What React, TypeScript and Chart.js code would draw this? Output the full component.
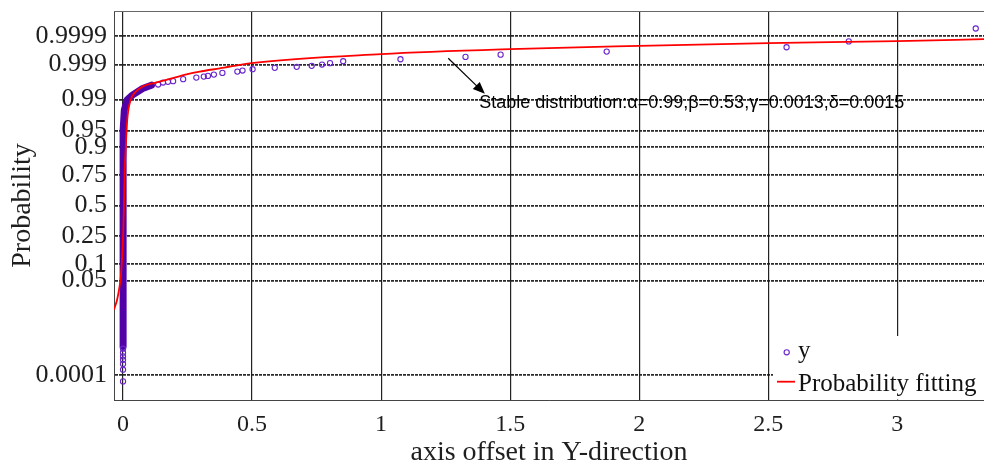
import React, { useEffect, useRef } from 'react';
import { Chart, registerables } from 'chart.js';

Chart.register(...registerables);

// ---- data ----
const xTicks = [0, 0.5, 1, 1.5, 2, 2.5, 3];
const xTickLabels = ['0', '0.5', '1', '1.5', '2', '2.5', '3'];
const probTicks = [0.0001, 0.05, 0.1, 0.25, 0.5, 0.75, 0.9, 0.95, 0.99, 0.999, 0.9999];
const probTickLabels = ['0.0001', '0.05', '0.1', '0.25', '0.5', '0.75', '0.9', '0.95', '0.99', '0.999', '0.9999'];

// dense column of samples close to zero (thousands of overlapping circles -> solid band)
const bandX = [0, 0, 0, 0, 0.0005, 0.001, 0.005, 0.016, 0.036, 0.076, 0.11];
const bandP = [0.001, 0.01, 0.1, 0.5, 0.9, 0.95, 0.982, 0.9897, 0.99223, 0.99483, 0.99584];

// individually visible samples
const sampleX = [
  0, 0, 0, 0, 0, 0, 0,
  0.136, 0.155, 0.174, 0.194, 0.233, 0.284, 0.313, 0.329, 0.352, 0.385, 0.443, 0.463, 0.502,
  0.588, 0.673, 0.731, 0.771, 0.802, 0.853, 1.075, 1.327, 1.463, 1.874, 2.571, 2.812, 3.304,
];
const sampleP = [
  5.74e-5, 1.59e-4, 2.55e-4, 3.6e-4, 4.68e-4, 6.23e-4, 8.44e-4,
  0.996, 0.99649, 0.99665, 0.9968, 0.9972, 0.99748, 0.99765, 0.99776, 0.99795, 0.99818, 0.99834, 0.99846, 0.9986,
  0.99873, 0.99882, 0.9989, 0.999, 0.9991, 0.99922, 0.99933, 0.99944, 0.99953, 0.99963, 0.99974, 0.99984, 0.999948,
];

// fitted stable-distribution CDF
const fitX = [-0.035, -0.023, -0.0155, -0.009, -0.004, 0.001, 0.0035, 0.0066, 0.0105, 0.0163, 0.031, 0.045, 0.076, 0.123, 0.168, 0.246, 0.297, 0.375, 0.498, 1.0, 1.5, 2.0, 2.5, 3.0, 3.336];
const fitP = [0.0112, 0.0194, 0.0324, 0.0565, 0.117, 0.297, 0.506, 0.783, 0.897, 0.9698, 0.9903, 0.99324, 0.99545, 0.99642, 0.99706, 0.99798, 0.99834, 0.99868, 0.9991, 0.999547, 0.999696, 0.999767, 0.999814, 0.999843, 0.999867];

const annotationText = 'Stable distribution:\u03b1=0.99,\u03b2=0.53,\u03b3=0.0013,\u03b4=0.0015';
const arrowFrom = [1.26, 0.99938];
const arrowTo = [1.402, 0.99282];
const textAnchor = [1.38, 0.9836];

const SERIF = "'Liberation Serif', 'Times New Roman', serif";
const SANS = "'Liberation Sans', Arial, sans-serif";
const BAND = '#5200a8';
const PURPLE = '#6a24cc';
const TEXT = '#1e1e1e';

// inverse standard normal CDF (probability paper scale)
function norminv(p: number): number {
  const a = [-3.969683028665376e1, 2.209460984245205e2, -2.759285104469687e2, 1.38357751867269e2, -3.066479806614716e1, 2.506628277459239];
  const b = [-5.447609879822406e1, 1.615858368580409e2, -1.556989798598866e2, 6.680131188771972e1, -1.328068155288572e1];
  const c = [-7.784894002430293e-3, -3.223964580411365e-1, -2.400758277161838, -2.549732539343734, 4.374664141464968, 2.938163982698783];
  const d = [7.784695709041462e-3, 3.224671290700398e-1, 2.445134137142996, 3.754408661907416];
  const pl = 0.02425;
  let q: number, r: number;
  if (p < pl) {
    q = Math.sqrt(-2 * Math.log(p));
    return (((((c[0] * q + c[1]) * q + c[2]) * q + c[3]) * q + c[4]) * q + c[5]) / ((((d[0] * q + d[1]) * q + d[2]) * q + d[3]) * q + 1);
  }
  if (p <= 1 - pl) {
    q = p - 0.5;
    r = q * q;
    return ((((((a[0] * r + a[1]) * r + a[2]) * r + a[3]) * r + a[4]) * r + a[5]) * q) / (((((b[0] * r + b[1]) * r + b[2]) * r + b[3]) * r + b[4]) * r + 1);
  }
  q = Math.sqrt(-2 * Math.log(1 - p));
  return -(((((c[0] * q + c[1]) * q + c[2]) * q + c[3]) * q + c[4]) * q + c[5]) / ((((d[0] * q + d[1]) * q + d[2]) * q + d[3]) * q + 1);
}

const overlayPlugin = {
  id: 'overlay',
  beforeDatasetsDraw(chart: any) {
    const { ctx, chartArea: a } = chart;
    ctx.save();
    ctx.strokeStyle = '#666';
    ctx.lineWidth = 1;
    ctx.beginPath();
    ctx.moveTo(a.left, a.top + 0.5);
    ctx.lineTo(a.right, a.top + 0.5);
    ctx.stroke();
    ctx.restore();
  },
  afterDatasetsDraw(chart: any) {
    const { ctx, chartArea: a, scales } = chart;
    const xs = scales.x;
    const ys = scales.y;
    // arrow
    const x1 = xs.getPixelForValue(arrowFrom[0]);
    const y1 = ys.getPixelForValue(norminv(arrowFrom[1]));
    const x2 = xs.getPixelForValue(arrowTo[0]);
    const y2 = ys.getPixelForValue(norminv(arrowTo[1]));
    const ang = Math.atan2(y2 - y1, x2 - x1);
    const hl = 12;
    const hw = 5;
    ctx.save();
    ctx.strokeStyle = '#000';
    ctx.fillStyle = '#000';
    ctx.lineWidth = 1.2;
    ctx.beginPath();
    ctx.moveTo(x1, y1);
    ctx.lineTo(x2 - Math.cos(ang) * hl * 0.8, y2 - Math.sin(ang) * hl * 0.8);
    ctx.stroke();
    const bx = x2 - Math.cos(ang) * hl;
    const by = y2 - Math.sin(ang) * hl;
    ctx.beginPath();
    ctx.moveTo(x2, y2);
    ctx.lineTo(bx + Math.sin(ang) * hw, by - Math.cos(ang) * hw);
    ctx.lineTo(bx - Math.sin(ang) * hw, by + Math.cos(ang) * hw);
    ctx.closePath();
    ctx.fill();
    // annotation text
    ctx.font = `18px ${SANS}`;
    ctx.textAlign = 'left';
    ctx.textBaseline = 'alphabetic';
    ctx.fillStyle = '#000';
    ctx.fillText(annotationText, xs.getPixelForValue(textAnchor[0]), ys.getPixelForValue(norminv(textAnchor[1])));
    ctx.restore();

    // legend box inside the axes (bottom right)
    ctx.save();
    const lx = a.right - 211;
    const ly = a.bottom - 64;
    ctx.fillStyle = '#fff';
    ctx.fillRect(lx, ly, a.right - lx, a.bottom - ly - 0.5);
    // marker
    ctx.strokeStyle = PURPLE;
    ctx.lineWidth = 1.1;
    ctx.beginPath();
    ctx.arc(a.right - 197.3, a.bottom - 47.7, 2.6, 0, Math.PI * 2);
    ctx.stroke();
    // red line
    ctx.strokeStyle = '#ff0000';
    ctx.lineWidth = 1.8;
    ctx.beginPath();
    ctx.moveTo(a.right - 207, a.bottom - 18.3);
    ctx.lineTo(a.right - 189, a.bottom - 18.3);
    ctx.stroke();
    ctx.fillStyle = '#111';
    ctx.font = `25px ${SERIF}`;
    ctx.textAlign = 'left';
    ctx.textBaseline = 'alphabetic';
    ctx.fillText('y', a.right - 186, a.bottom - 42.5);
    ctx.fillText('Probability fitting', a.right - 186, a.bottom - 9);
    ctx.restore();
  },
};

export default function App() {
  const ref = useRef<HTMLCanvasElement>(null);

  useEffect(() => {
    const canvas = ref.current;
    if (!canvas) return;
    const chart = new Chart(canvas, {
      type: 'scatter',
      data: {
        datasets: [
          {
            label: 'Probability fitting',
            data: fitX.map((x, i) => ({ x, y: norminv(fitP[i]) })),
            showLine: true,
            borderColor: '#ff0000',
            backgroundColor: '#ff0000',
            borderWidth: 1.8,
            pointRadius: 0,
            cubicInterpolationMode: 'monotone',
          } as any,
          {
            label: 'y',
            data: sampleX.map((x, i) => ({ x, y: norminv(sampleP[i]) })),
            showLine: false,
            pointRadius: 2.6,
            pointBorderWidth: 1.1,
            pointBorderColor: PURPLE,
            pointBackgroundColor: 'rgba(0,0,0,0)',
          } as any,
          {
            label: 'y-dense',
            data: bandX.map((x, i) => ({ x, y: norminv(bandP[i]) })),
            showLine: true,
            borderColor: BAND,
            borderWidth: 7,
            borderCapStyle: 'round',
            borderJoinStyle: 'round',
            pointRadius: 0,
            tension: 0,
          } as any,
        ],
      },
      options: {
        animation: false,
        responsive: false,
        devicePixelRatio: 1,
        events: [],
        layout: { autoPadding: false, padding: { top: 11, left: 0, right: 0, bottom: 0 } },
        plugins: {
          legend: { display: false },
          tooltip: { enabled: false },
        },
        scales: {
          x: {
            type: 'linear',
            min: -0.035,
            max: 3.336,
            afterBuildTicks: (s: any) => {
              s.ticks = xTicks.map((v) => ({ value: v }));
            },
            afterFit: (s: any) => {
              s.height = 69;
              s.paddingLeft = 0;
              s.paddingRight = 0;
              s.paddingTop = 0;
              s.paddingBottom = 0;
            },
            ticks: {
              callback: (v: any) => {
                const k = xTicks.indexOf(Number(v));
                return k >= 0 ? xTickLabels[k] : '';
              },
              autoSkip: false,
              maxRotation: 0,
              padding: 10,
              color: TEXT,
              font: { family: SERIF, size: 24 },
            },
            grid: { color: '#222', lineWidth: 1.2, drawTicks: false },
            border: { display: true, color: '#444', width: 1 },
            title: {
              display: true,
              text: 'axis offset in Y-direction',
              color: TEXT,
              font: { family: SERIF, size: 28 },
              padding: { top: 0, bottom: 0 },
            },
          },
          y: {
            type: 'linear',
            min: norminv(1e-5),
            max: norminv(1 - 1e-5),
            afterBuildTicks: (s: any) => {
              s.ticks = probTicks.map((p) => ({ value: norminv(p) }));
            },
            afterFit: (s: any) => {
              s.width = 114;
              s.paddingLeft = 0;
              s.paddingRight = 0;
              s.paddingTop = 0;
              s.paddingBottom = 0;
            },
            ticks: {
              callback: (_v: any, i: number) => probTickLabels[i],
              autoSkip: false,
              padding: 7,
              color: TEXT,
              font: { family: SERIF, size: 26 },
            },
            grid: { color: 'rgba(20,20,20,0.9)', lineWidth: 1.8, drawTicks: false },
            border: { display: true, color: '#444', width: 1, dash: [3, 1] },
            title: {
              display: true,
              text: 'Probability',
              color: TEXT,
              font: { family: SERIF, size: 28 },
              padding: { top: 6, bottom: 0 },
            },
          },
        },
      },
      plugins: [overlayPlugin],
    } as any);
    return () => chart.destroy();
  }, []);

  return (
    <div style={{ position: 'fixed', left: 0, top: 0, width: 984, height: 469, background: '#fff' }}>
      <canvas ref={ref} width={984} height={469} style={{ display: 'block', width: 984, height: 469 }} />
    </div>
  );
}
